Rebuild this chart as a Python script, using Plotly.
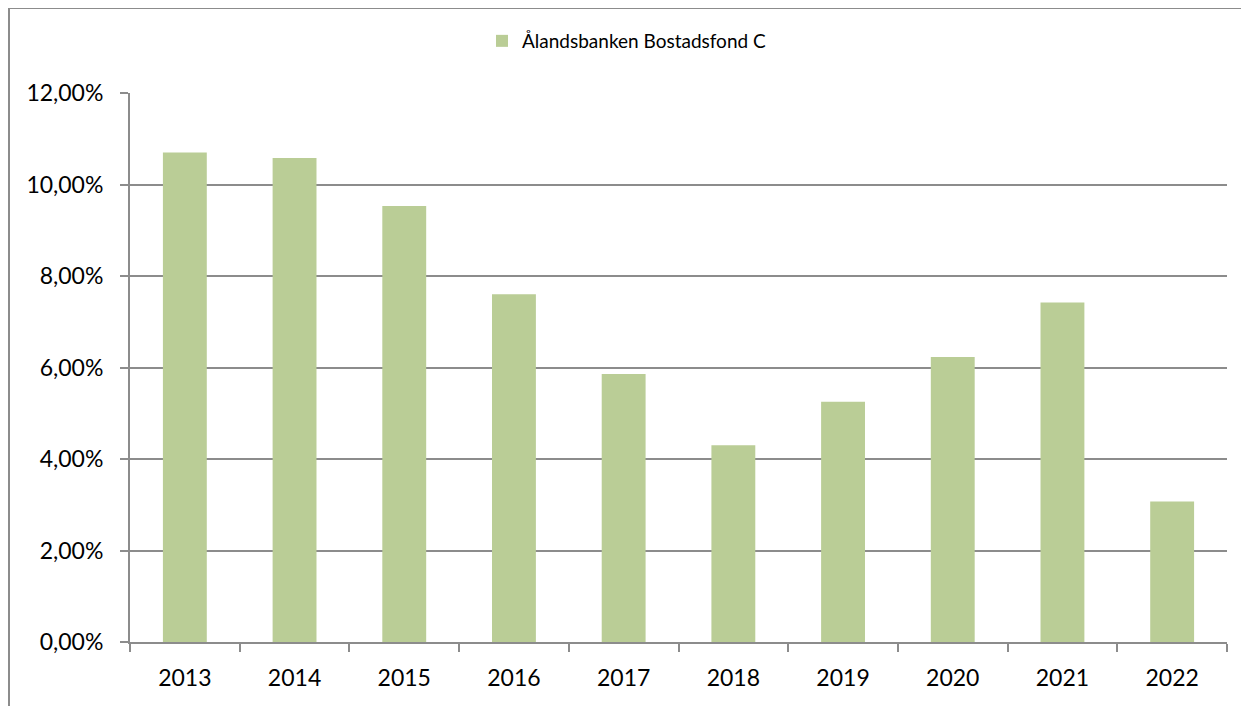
import plotly.graph_objects as go

# Data
years = ["2013", "2014", "2015", "2016", "2017", "2018", "2019", "2020", "2021", "2022"]
returns_pct = [10.70, 10.58, 9.53, 7.60, 5.86, 4.30, 5.25, 6.23, 7.42, 3.07]
series_name = "Ålandsbanken Bostadsfond C"
y_ticks = [0, 2, 4, 6, 8, 10, 12]
y_tick_text = [f"{v:.2f}%".replace(".", ",") for v in y_ticks]

# page has an 8px body margin, so the figure is placed at (8, 8)
W, H = 1241, 698
ML, MR, MT, MB = 122, 22, 85, 64
PW, PH = W - ML - MR, H - MT - MB

bar_color = "#BACD96"
grey = "#8C8C8C"
font_family = "Lato, 'Open Sans', sans-serif"

fig = go.Figure()

fig.add_trace(go.Bar(
    x=years,
    y=returns_pct,
    name=series_name,
    marker=dict(color=bar_color, line=dict(width=0)),
    showlegend=True,
))

# outer chart frame (right/bottom edges fall outside the window)
fig.add_shape(
    type="rect", xref="paper", yref="paper",
    x0=(1 - ML) / PW, x1=1.2,
    y0=-0.3, y1=(H - MB - 0) / PH,
    line=dict(color=grey, width=2),
    fillcolor="rgba(0,0,0,0)",
    layer="below",
)

fig.update_layout(
    width=W, height=H,
    margin=dict(l=ML, r=MR, t=MT, b=MB, pad=0, autoexpand=False),
    paper_bgcolor="white",
    plot_bgcolor="white",
    bargap=0.6,
    font=dict(family=font_family, color="black", size=22),
    showlegend=True,
    legend=dict(
        orientation="h",
        x=(474 - ML) / PW, xanchor="left",
        y=(H - MB - 33) / PH, yanchor="middle",
        font=dict(size=19),
        bgcolor="rgba(0,0,0,0)",
        itemwidth=30,
    ),
    xaxis=dict(
        type="category",
        showline=True, linecolor=grey, linewidth=2,
        ticks="outside", tickson="boundaries", ticklen=8,
        tickcolor=grey, tickwidth=2,
        showgrid=False,
        tickfont=dict(size=23),
        ticklabelstandoff=14,
    ),
    yaxis=dict(
        range=[0, 12],
        tickvals=y_ticks,
        ticktext=y_tick_text,
        showline=True, linecolor=grey, linewidth=2,
        ticks="outside", ticklen=8, tickcolor=grey, tickwidth=2,
        showgrid=True, gridcolor=grey, gridwidth=2,
        zeroline=False,
        tickfont=dict(size=23),
        ticklabelstandoff=12,
    ),
)

fig.write_html("out.html")
